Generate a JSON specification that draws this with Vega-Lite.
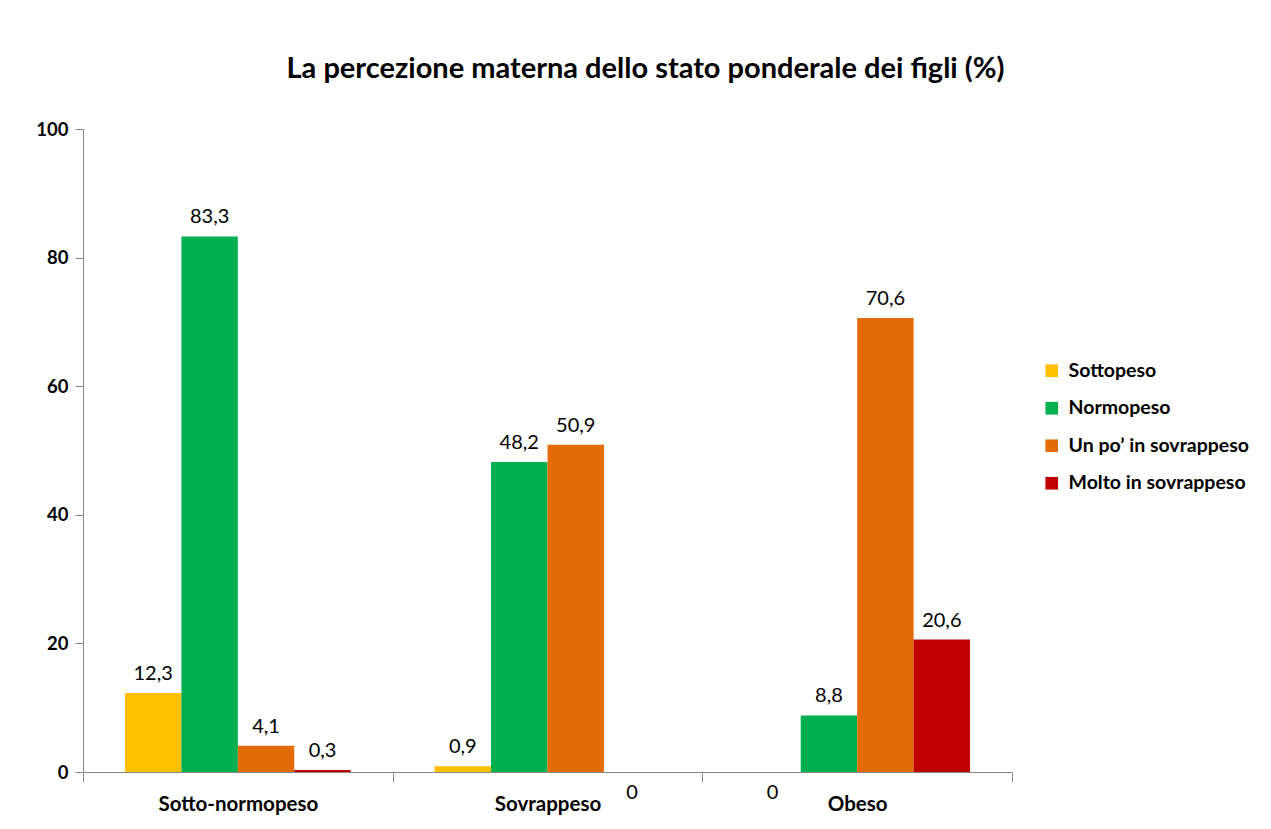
{
  "$schema": "https://vega.github.io/schema/vega-lite/v6.json",
  "width": 929,
  "height": 643,
  "autosize": {"type": "none"},
  "padding": {"left": 83, "top": 129, "right": 259, "bottom": 57},
  "background": "white",
  "title": {"text": "La percezione materna dello stato ponderale dei figli (%)", "anchor": "middle", "dx": 98, "offset": 36, "fontSize": 29, "font": "Lato", "fontWeight": "bold", "color": "black"},
  "data": {"values": [
    {"gruppo": "Sotto-normopeso", "categoria": "Sottopeso", "valore": 12.3, "label": "12,3"},
    {"gruppo": "Sotto-normopeso", "categoria": "Normopeso", "valore": 83.3, "label": "83,3"},
    {"gruppo": "Sotto-normopeso", "categoria": "Un po’ in sovrappeso", "valore": 4.1, "label": "4,1"},
    {"gruppo": "Sotto-normopeso", "categoria": "Molto in sovrappeso", "valore": 0.3, "label": "0,3"},
    {"gruppo": "Sovrappeso", "categoria": "Sottopeso", "valore": 0.9, "label": "0,9"},
    {"gruppo": "Sovrappeso", "categoria": "Normopeso", "valore": 48.2, "label": "48,2"},
    {"gruppo": "Sovrappeso", "categoria": "Un po’ in sovrappeso", "valore": 50.9, "label": "50,9"},
    {"gruppo": "Sovrappeso", "categoria": "Molto in sovrappeso", "valore": 0, "label": "0"},
    {"gruppo": "Obeso", "categoria": "Sottopeso", "valore": 0, "label": "0"},
    {"gruppo": "Obeso", "categoria": "Normopeso", "valore": 8.8, "label": "8,8"},
    {"gruppo": "Obeso", "categoria": "Un po’ in sovrappeso", "valore": 70.6, "label": "70,6"},
    {"gruppo": "Obeso", "categoria": "Molto in sovrappeso", "valore": 20.6, "label": "20,6"}
  ]},
  "encoding": {
    "x": {"field": "gruppo", "type": "nominal", "sort": ["Sotto-normopeso", "Sovrappeso", "Obeso"],
      "scale": {"paddingInner": 0, "paddingOuter": 0},
      "axis": {"title": null, "labelAngle": 0, "tickBand": "extent", "tickSize": 10, "domainColor": "#868686", "tickColor": "#868686", "labelPadding": 12, "labelFont": "Lato", "labelFontSize": 20.5, "labelFontWeight": "bold", "labelColor": "black"}},
    "xOffset": {"field": "categoria", "type": "nominal", "sort": ["Sottopeso", "Normopeso", "Un po’ in sovrappeso", "Molto in sovrappeso"],
      "scale": {"paddingInner": 0, "paddingOuter": 0.743}},
    "y": {"field": "valore", "type": "quantitative", "scale": {"domain": [0, 100]},
      "axis": {"values": [0, 20, 40, 60, 80, 100], "grid": false, "title": null, "domainColor": "#868686", "tickColor": "#868686", "tickSize": 8, "labelPadding": 7, "labelFont": "Lato", "labelFontSize": 18.5, "labelFontWeight": "bold", "labelColor": "black"}}
  },
  "layer": [
    {"mark": {"type": "bar"},
     "encoding": {"color": {"field": "categoria", "type": "nominal",
        "sort": ["Sottopeso", "Normopeso", "Un po’ in sovrappeso", "Molto in sovrappeso"],
        "scale": {"domain": ["Sottopeso", "Normopeso", "Un po’ in sovrappeso", "Molto in sovrappeso"], "range": ["#FFC000", "#00B050", "#E36C09", "#C00000"]},
        "legend": {"orient": "none", "legendX": 959, "legendY": 232, "title": null, "symbolType": "square", "symbolSize": 160, "symbolStrokeWidth": 0, "labelFont": "Lato", "labelFontSize": 19.5, "labelFontWeight": "bold", "labelColor": "black", "labelLimit": 300, "rowPadding": 16.5, "labelOffset": 7}}}},
    {"transform": [{"filter": "datum.valore > 0"}],
     "mark": {"type": "text", "baseline": "alphabetic", "dy": -13, "fontSize": 20, "font": "Lato", "color": "black"},
     "encoding": {"text": {"field": "label"}}},
    {"transform": [{"filter": "datum.valore == 0"}],
     "mark": {"type": "text", "baseline": "middle", "dy": 21, "fontSize": 20, "font": "Lato", "color": "black"},
     "encoding": {"text": {"field": "label"}}}
  ],
  "config": {"view": {"stroke": null}}
}
